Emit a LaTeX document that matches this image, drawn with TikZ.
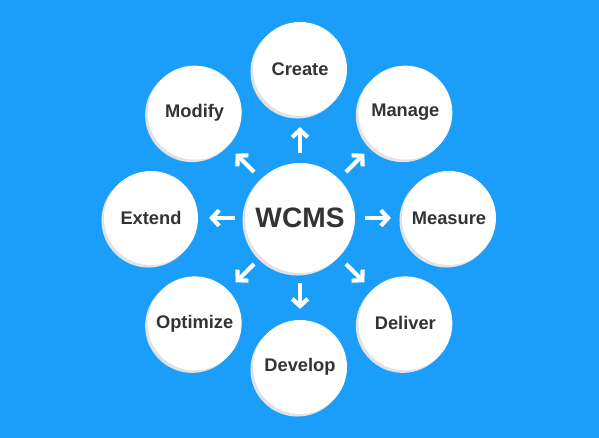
\documentclass[tikz,border=0pt]{standalone}
\usepackage{fontspec}
\setmainfont{Liberation Sans}
\usetikzlibrary{arrows.meta,calc,shadows}
\definecolor{bgblue}{RGB}{26,158,250}
\definecolor{txtgray}{RGB}{51,51,51}
\definecolor{rimgray}{RGB}{226,225,228}

\tikzset{
  bubble/.style={circle, fill=white, minimum size=2.35cm, inner sep=0pt,
    text=txtgray, font=\fontsize{13}{15}\selectfont\bfseries,
    drop shadow={shadow xshift=-1.8pt, shadow yshift=-1.8pt, fill=rimgray, opacity=1}},
  hub/.style={bubble, minimum size=2.75cm, font=\fontsize{20}{24}\selectfont\bfseries},
  arr/.style={white, line width=3pt, -{Straight Barb[length=1.8mm,width=3.9mm]}}
}

\begin{document}
\begin{tikzpicture}
\useasboundingbox (0,0) rectangle (14.975,-10.95);
\fill[bgblue] (0,0) rectangle (14.975,-10.95);
\node[hub] (wcms) at (7.5,-5.45) {WCMS};
\node[bubble] (create) at ($(wcms)+(90:3.725)$) {Create};
\node[bubble] (manage) at ($(wcms)+(45:3.725)$) {Manage};
\node[bubble] (measure) at ($(wcms)+(0:3.725)$) {Measure};
\node[bubble] (deliver) at ($(wcms)+(-45:3.725)$) {Deliver};
\node[bubble] (develop) at ($(wcms)+(-90:3.725)$) {Develop};
\node[bubble] (optimize) at ($(wcms)+(-135:3.725)$) {Optimize};
\node[bubble] (extend) at ($(wcms)+(180:3.725)$) {Extend};
\node[bubble] (modify) at ($(wcms)+(135:3.725)$) {Modify};
\draw[arr] ($(wcms)!0.436!(create)$) -- ($(wcms)!0.61!(create)$);
\draw[arr] ($(wcms)!0.436!(manage)$) -- ($(wcms)!0.61!(manage)$);
\draw[arr] ($(wcms)!0.436!(measure)$) -- ($(wcms)!0.61!(measure)$);
\draw[arr] ($(wcms)!0.436!(deliver)$) -- ($(wcms)!0.61!(deliver)$);
\draw[arr] ($(wcms)!0.436!(develop)$) -- ($(wcms)!0.61!(develop)$);
\draw[arr] ($(wcms)!0.436!(optimize)$) -- ($(wcms)!0.61!(optimize)$);
\draw[arr] ($(wcms)!0.436!(extend)$) -- ($(wcms)!0.61!(extend)$);
\draw[arr] ($(wcms)!0.436!(modify)$) -- ($(wcms)!0.61!(modify)$);
\end{tikzpicture}
\end{document}
